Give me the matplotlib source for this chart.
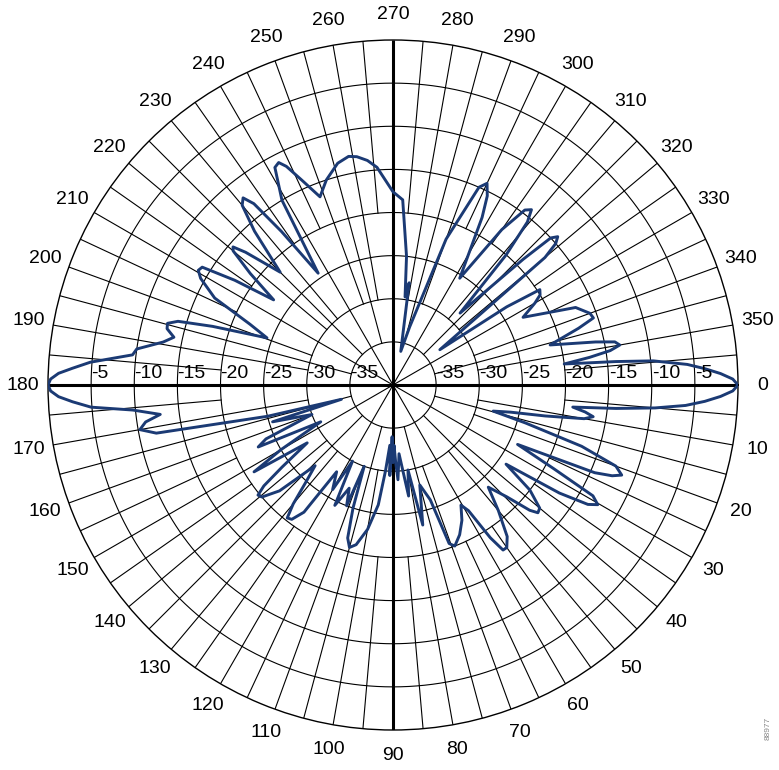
import matplotlib
matplotlib.use("Agg")
import matplotlib.pyplot as plt
import numpy as np

plt.rcParams["font.family"] = ["Liberation Sans", "DejaVu Sans"]

# measured pattern: azimuth (deg, clockwise from east) and gain (dB)
ANGLE_DEG = [
    0, 1, 2, 3, 4, 5, 6, 7, 8, 9, 10, 11.5, 13, 14.6, 16, 18, 20, 21.5, 22.5,
    23.5, 25.5, 27.5, 29, 30.3, 31.5, 33, 35, 37.5, 40, 41.4, 42.5, 44.5, 47,
    50, 53, 55, 56.3, 57.5, 59, 60.5, 63, 66, 69, 70.5, 72, 75, 78, 80, 82, 85,
    87, 88, 89, 90, 91, 92, 93, 95, 97, 100, 103, 105, 106.5, 108, 109.5, 111,
    113, 115.8, 118, 120, 123, 125, 127, 128.5, 130, 132, 134, 137, 139.5,
    140.8, 142, 143.5, 146, 148, 150, 153, 155.3, 157, 160, 163, 164.5, 166,
    168.5, 170, 171.5, 172.8, 174.5, 175.8, 177, 178, 179, 180, 181, 182, 183,
    184.3, 186.6, 188, 190.6, 192.3, 194, 195.3, 196.5, 198, 200.5, 203, 206,
    209, 210.5, 211.7, 213.5, 215.5, 218, 220, 220.8, 222, 225, 228, 230,
    231.3, 232.5, 234, 236.2, 239, 241.5, 242.8, 244, 246, 248.8, 252, 256,
    259, 261, 263.5, 265.8, 270, 273, 276, 277.8, 279, 280, 283, 286, 290,
    293.5, 295, 296.5, 298, 302, 305, 307, 308.3, 309.5, 311, 313, 316, 317,
    318, 319, 320, 323, 325.5, 327, 328.5, 330, 332.5, 337, 340, 341.5, 343,
    345.7, 348, 349, 350, 351, 352, 353, 354, 354.7, 356, 357, 358, 359, 360,
]
GAIN_DB = [
    0, -0.6, -2, -3.8, -6, -9.5, -14, -19, -17.5, -16.5, -17.5, -22, -26, -28,
    -24, -17, -12.5, -11.5, -12.5, -14.5, -24, -19, -13.5, -12.5, -13.5, -17,
    -24, -20, -17.8, -17.6, -18.5, -21.5, -23.8, -21, -18, -17, -17, -19, -23,
    -24, -22.4, -21, -20, -20.5, -26, -28, -23.4, -30, -27, -32, -29, -31, -33,
    -31, -34, -29.5, -33, -30, -26, -23, -21, -20.5, -21.5, -25, -30, -25, -27,
    -24.5, -30, -26, -28, -22, -20.5, -20.3, -22, -25, -27, -22, -20, -19.8,
    -21, -24, -28, -21, -25, -30.6, -22.8, -24, -30, -25.4, -33.8, -25, -12,
    -10.2, -11, -12.8, -9.7, -4.9, -2.8, -1.2, -0.3, 0, -0.3, -1.2, -2.8, -4.8,
    -9.6, -10, -12.9, -14, -13, -12.9, -14, -18, -24.4, -22, -17, -14.5, -13.8,
    -14, -18, -23, -19, -15.8, -15.5, -17, -21.5, -16, -12.8, -12.2, -13.5,
    -18, -24.4, -15, -11.3, -11, -11.8, -14, -16.6, -15, -13.5, -13, -13.2,
    -13.8, -14.7, -17.6, -18.5, -25, -29.7, -28, -32, -36, -33, -22, -15,
    -14.2, -15.5, -18, -25.4, -18, -14.6, -14.1, -15.5, -20, -28.6, -19, -15,
    -14.3, -15, -17, -33.2, -24, -19.7, -20, -21, -23, -17, -15.7, -15.5,
    -17.5, -21.2, -16, -13.8, -13.3, -14.5, -17, -20, -14, -9.7, -5.8, -3.8,
    -2, -0.6, 0,
]

RINGS = [-35, -30, -25, -20, -15, -10, -5]
ANGLE_LABELS = list(range(0, 360, 10))
R_MIN, R_MAX = -40, 0

GRID = "black"
LINE = "#1b3a74"

fig = plt.figure(figsize=(7.79, 7.70), dpi=100, facecolor="white")
ax = fig.add_axes([48 / 779, 40 / 770, 690 / 779, 690 / 770], projection="polar")
ax.set_theta_zero_location("E")
ax.set_theta_direction(-1)
ax.set_rlim(R_MIN, R_MAX)
ax.grid(False)
ax.set_xticks([])
ax.set_yticks([])
ax.spines["polar"].set_linewidth(1.0)
ax.spines["polar"].set_color(GRID)

circ = np.linspace(0, 2 * np.pi, 721)
for v in RINGS:
    ax.plot(circ, np.full_like(circ, v), color=GRID, lw=0.8, zorder=1)

# spokes get denser further out
for a in range(0, 360, 5):
    if a % 90 == 0:
        continue
    if a % 30 == 0:
        start = R_MIN
    elif a % 15 == 0:
        start = -35
    elif a % 10 == 0:
        start = -30
    else:
        start = -20
    t = np.radians(a)
    ax.plot([t, t], [start, R_MAX], color=GRID, lw=0.8, zorder=1)

for a in (0, 90, 180, 270):
    t = np.radians(a)
    ax.plot([t, t], [R_MIN, R_MAX], color=GRID, lw=2.2, zorder=2, solid_capstyle="butt")

ax.plot(np.radians(ANGLE_DEG), GAIN_DB, color=LINE, lw=2.1, zorder=3,
        solid_joinstyle="round")

for a in ANGLE_LABELS:
    ax.text(np.radians(a), 2.9, str(a), ha="center", va="center", fontsize=14)

for v in RINGS:
    for side in (0, 180):
        ax.annotate(str(v), (np.radians(side), v), xytext=(0, 2),
                    textcoords="offset points", ha="left", va="bottom", fontsize=14,
                    zorder=4)

fig.text(768 / 779, 30 / 770, "88977", rotation=90, fontsize=6, color="#888888",
         ha="center", va="bottom")

fig.savefig("out.png", dpi=100, facecolor="white")
